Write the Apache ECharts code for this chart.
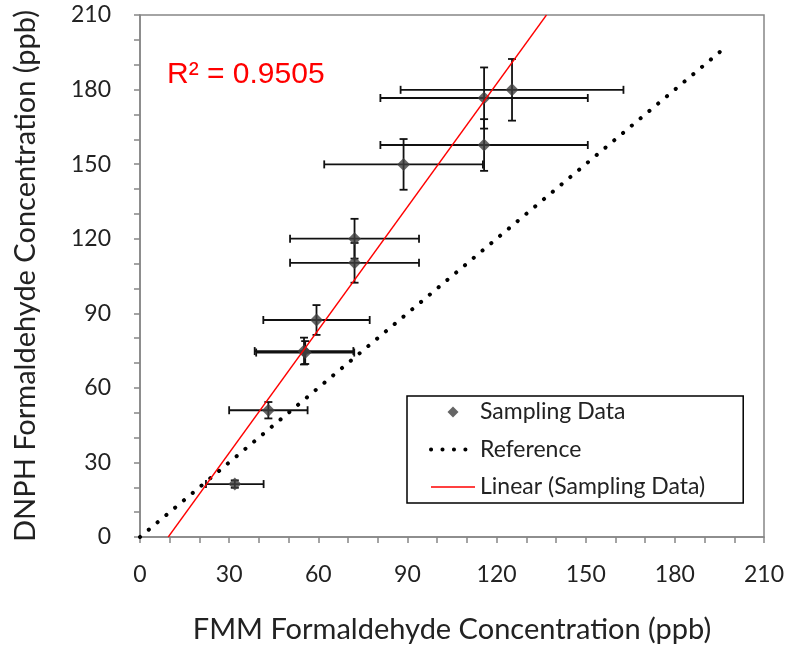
<!DOCTYPE html>
<html>
<head>
<meta charset="utf-8">
<script src="https://cdn.jsdelivr.net/npm/echarts@6/dist/echarts.min.js"></script>
<style>
html,body{margin:0;padding:0;background:#fff;}
#c{width:788px;height:649px;}
</style>
</head>
<body>
<div id="c"></div>
<script>
// FMM (x) vs DNPH (y) formaldehyde concentrations, ppb
const fmm     = [31.9, 43.2, 55.2, 55.6, 59.4, 72.2, 72.2, 88.7, 115.8, 115.8, 125.2];
const dnph    = [21.3, 51.0, 74.8, 74.2, 87.3, 110.3, 120.0, 149.9, 157.7, 176.6, 179.9];
const fmmErr  = [9.7, 13.2, 16.6, 16.5, 17.9, 21.7, 21.7, 26.7, 34.9, 34.9, 37.5];
const dnphErr = [1.5, 3.3, 5.4, 4.6, 6.0, 8.0, 8.0, 10.2, 10.4, 12.3, 12.4];
// 1:1 reference line
const refX = [0, 197.7];
const refY = [0, 197.7];
// linear trendline endpoints (as drawn)
const trendX = [9.5, 136.8];
const trendY = [0, 210];
const r2Label = 'R² = 0.9505';
const axisTicks = [0, 30, 60, 90, 120, 150, 180, 210];

const chart = echarts.init(document.getElementById('c'), null, {renderer: 'canvas'});
const axisGray = '#868686';
const labelFont = 'Lato';
const dotStyle = {color: '#000', width: 4, type: [0.1, 11.35], cap: 'round'};

const commonAxis = {
  type: 'value', min: 0, max: 210, interval: 30,
  axisLine: {show: true, lineStyle: {color: axisGray, width: 1.5}},
  axisTick: {show: true, length: 6, lineStyle: {color: axisGray, width: 1.5}},
  minorTick: {show: true, splitNumber: 3, length: 6, lineStyle: {color: axisGray, width: 1.5}},
  splitLine: {show: false},
  nameLocation: 'middle',
  nameTextStyle: {fontFamily: labelFont, fontSize: 29, color: '#222'}
};
const mkLabel = (margin) => ({fontFamily: labelFont, fontSize: 23, color: '#222', margin: margin,
  formatter: v => axisTicks.indexOf(v) >= 0 ? String(v) : ''});

chart.setOption({
  animation: false,
  backgroundColor: '#fff',
  grid: {left: 140, right: 24, top: 15, bottom: 112, show: true, borderColor: axisGray, borderWidth: 1.5},
  xAxis: Object.assign({}, commonAxis, {name: 'FMM Formaldehyde Concentration (ppb)', nameGap: 78, axisLabel: mkLabel(26)}),
  yAxis: Object.assign({}, commonAxis, {name: 'DNPH Formaldehyde Concentration (ppb)', nameGap: 100, axisLabel: mkLabel(29)}),
  legend: {
    orient: 'vertical', left: 407, top: 396,
    data: [
      {name: 'Sampling Data', icon: 'path://M5,0 L10,5 L5,10 L0,5 Z'},
      {name: 'Reference', itemStyle: {opacity: 0, color: 'rgba(0,0,0,0)', borderWidth: 0}, lineStyle: dotStyle},
      {name: 'Linear (Sampling Data)', itemStyle: {opacity: 0, color: 'rgba(0,0,0,0)', borderWidth: 0},
        lineStyle: {color: '#ff0000', width: 1.5}}
    ],
    symbolKeepAspect: true,
    itemWidth: 44, itemHeight: 11, itemGap: 14.5,
    padding: [4.5, 38, 4.5, 22],
    borderColor: '#000', borderWidth: 1.5,
    textStyle: {fontFamily: labelFont, fontSize: 23, color: '#222'}
  },
  graphic: [{
    type: 'text', left: 167, top: 60,
    style: {text: r2Label, fontFamily: 'Liberation Sans', fontSize: 30, fill: '#ff0000'}
  }],
  series: [
    {
      name: 'Reference', type: 'line', symbol: 'none', z: 2,
      data: refX.map((v, i) => [v, refY[i]]),
      lineStyle: dotStyle
    },
    {
      name: 'errbars', type: 'custom', z: 3,
      data: fmm.map((v, i) => [v, dnph[i], fmmErr[i], dnphErr[i]]),
      renderItem: function (params, api) {
        const x = api.value(0), y = api.value(1), ex = api.value(2), ey = api.value(3);
        const pL = api.coord([x - ex, y]), pR = api.coord([x + ex, y]);
        const pT = api.coord([x, y + ey]), pB = api.coord([x, y - ey]);
        const c = 4;
        const st = {stroke: '#111', lineWidth: 1.8};
        const seg = (x1, y1, x2, y2) => ({type: 'line', shape: {x1, y1, x2, y2}, style: st});
        return {type: 'group', children: [
          seg(pL[0], pL[1], pR[0], pR[1]),
          seg(pL[0], pL[1] - c, pL[0], pL[1] + c),
          seg(pR[0], pR[1] - c, pR[0], pR[1] + c),
          seg(pT[0], pT[1], pB[0], pB[1]),
          seg(pT[0] - c, pT[1], pT[0] + c, pT[1]),
          seg(pB[0] - c, pB[1], pB[0] + c, pB[1])
        ]};
      }
    },
    {
      name: 'Sampling Data', type: 'scatter', symbol: 'diamond', symbolSize: 13, z: 4,
      itemStyle: {color: '#3f3f3f'},
      data: fmm.map((v, i) => [v, dnph[i]])
    },
    {
      name: 'Linear (Sampling Data)', type: 'line', symbol: 'none', z: 5,
      data: trendX.map((v, i) => [v, trendY[i]]),
      lineStyle: {color: '#ff0000', width: 1.3}
    }
  ]
});
</script>
</body>
</html>
